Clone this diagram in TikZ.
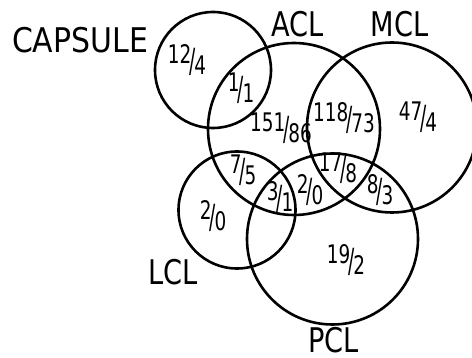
\documentclass[tikz,border=0pt]{standalone}
\usepackage{fontspec}
\newfontfamily\lettering[FakeStretch=0.8]{DejaVu Sans}
\newfontfamily\widelettering[FakeStretch=0.88]{DejaVu Sans}
\newfontfamily\digits[FakeStretch=0.72]{DejaVu Sans}
% stencil-like fraction: raised numerator, tall slash, lowered denominator
\newcommand\frc[2]{\raisebox{2.8pt}{#1}\kern-0.8pt\raisebox{-1.8pt}{\scalebox{1}[1.3]{/}}\kern-0.8pt\raisebox{-2.8pt}{#2}}
\tikzset{
  ring/.style={draw, line width=1.3pt, circle, inner sep=0pt, minimum size=#1},
  lab/.style={inner sep=0pt, font=\lettering\fontsize{17}{17}\selectfont},
  count/.style={inner sep=0pt, font=\digits\fontsize{12.8}{12.8}\selectfont},
}
\begin{document}
\begin{tikzpicture}[x=0.5pt, y=-0.5pt]
\useasboundingbox (0,0) rectangle (472,358);
% the five ligament/capsule sets (diameter in pt equals radius in units)
\node[ring=58pt] (capsule) at (213,70) {};
\node[ring=86pt] (acl) at (294,129) {};
\node[ring=85pt] (mcl) at (392,127.5) {};
\node[ring=58.5pt] (lcl) at (237,210) {};
\node[ring=85.5pt] (pcl) at (332.5,239) {};
% set names
\node[lab, font=\widelettering\fontsize{17}{17}\selectfont] (capsulename) at (80,40.5) {CAPSULE};
\node[lab] (aclname) at (297.5,24.5) {ACL};
\node[lab] (mclname) at (399.5,24.5) {MCL};
\node[lab] (lclname) at (173,272.5) {LCL};
\node[lab] (pclname) at (333.5,340) {PCL};
% region counts
\node[count] (c1) at (187,60) {\frc{12}{4}};
\node[count] (c2) at (241,88) {\frc{1}{1}};
\node[count] (c3) at (281,128) {\frc{151}{86}};
\node[count] (c4) at (344,118) {\frc{118}{73}};
\node[count] (c5) at (418,117) {\frc{47}{4}};
\node[count] (c6) at (243,170) {\frc{7}{5}};
\node[count] (c7) at (280,197) {\frc{3}{1}};
\node[count] (c8) at (310,190) {\frc{2}{0}};
\node[count] (c9) at (338,168) {\frc{17}{8}};
\node[count] (c10) at (380,190) {\frc{8}{3}};
\node[count] (c11) at (213,216) {\frc{2}{0}};
\node[count] (c12) at (346,260) {\frc{19}{2}};
\end{tikzpicture}
\end{document}
